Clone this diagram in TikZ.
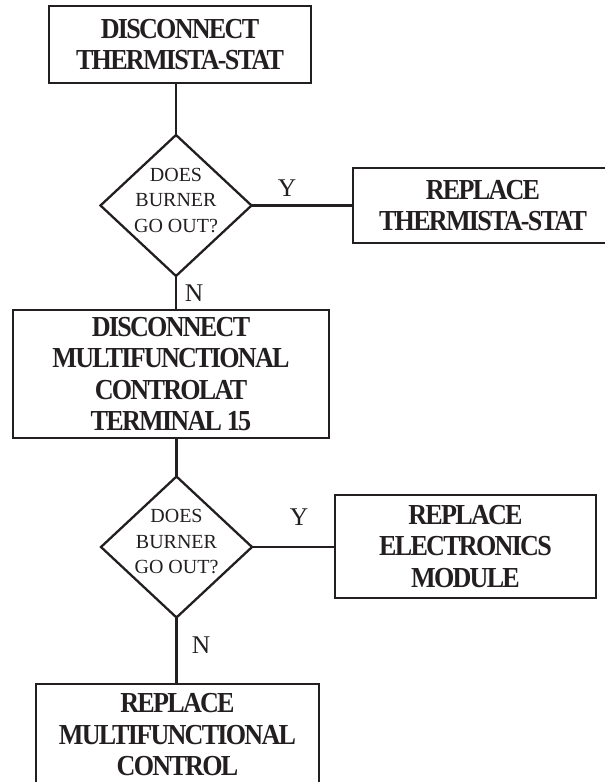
\documentclass[tikz,border=0pt]{standalone}
\usepackage{fontspec}
\setmainfont{Liberation Serif}
\newfontfamily\boxfont{Liberation Serif}[FakeStretch=0.9,LetterSpace=-6]
\usetikzlibrary{shapes.geometric}
\definecolor{ink}{RGB}{35,31,32}
\tikzset{
  every node/.style={text=ink},
  conn/.style={draw=ink, line width=2.3pt},
  stepbox/.style={draw=ink, line width=2.3pt, rectangle, inner sep=0pt, outer sep=0pt,
    align=center, font=\boxfont\bfseries\fontsize{29}{31.5}\selectfont},
  dia/.style={draw=ink, line width=2.3pt, diamond, inner sep=0pt, outer sep=0pt,
    minimum width=151pt, minimum height=141pt},
  diatext/.style={align=center, inner sep=0pt, font=\fontsize{20}{25.5}\selectfont},
  yn/.style={inner sep=0pt, font=\fontsize{25.5}{28}\selectfont}
}
\begin{document}
\begin{tikzpicture}[x=1pt, y=-1pt]
\useasboundingbox (0,0) rectangle (605,782);
\clip (0,0) rectangle (605,782);
% boxes
\node[stepbox, minimum width=262pt, minimum height=77pt] (b1) at (180,44.5)
  {DISCONNECT\\THERMISTA-STAT};
\node[dia] (d1) at (176,205.5) {};
\node[diatext] (t1) at ([yshift=5pt]d1.center) {DOES\\BURNER\\GO OUT?};
\node[stepbox, minimum width=260pt, minimum height=75pt] (r1) at (483,205.5)
  {REPLACE\\THERMISTA-STAT};
\node[stepbox, minimum width=316pt, minimum height=128pt] (b2) at (171,374)
  {DISCONNECT\\MULTIFUNCTIONAL\\CONTROLAT\\TERMINAL 15};
\node[dia] (d2) at (176.5,547) {};
\node[diatext] (t2) at ([yshift=5pt]d2.center) {DOES\\BURNER\\GO OUT?};
\node[stepbox, minimum width=261pt, minimum height=103pt] (r2) at (465.5,546.5)
  {REPLACE\\ELECTRONICS\\MODULE};
\node[stepbox, minimum width=283pt, minimum height=102pt] (b3) at (177.5,735)
  {REPLACE\\MULTIFUNCTIONAL\\CONTROL};
% labels
\node[yn] (y1) at (287,188) {Y};
\node[yn] (n1) at (194,293) {N};
\node[yn] (y2) at (299,517) {Y};
\node[yn] (n2) at (201,645) {N};
% connectors
\draw[conn] (d1.north |- b1.south) -- (d1.north);
\draw[conn] (d1.east) -- (d1.east -| r1.west);
\draw[conn] (d1.south) -- (d1.south |- b2.north);
\draw[conn] (d2.north |- b2.south) -- (d2.north);
\draw[conn] (d2.east) -- (d2.east -| r2.west);
\draw[conn] (d2.south) -- (d2.south |- b3.north);
\end{tikzpicture}
\end{document}
